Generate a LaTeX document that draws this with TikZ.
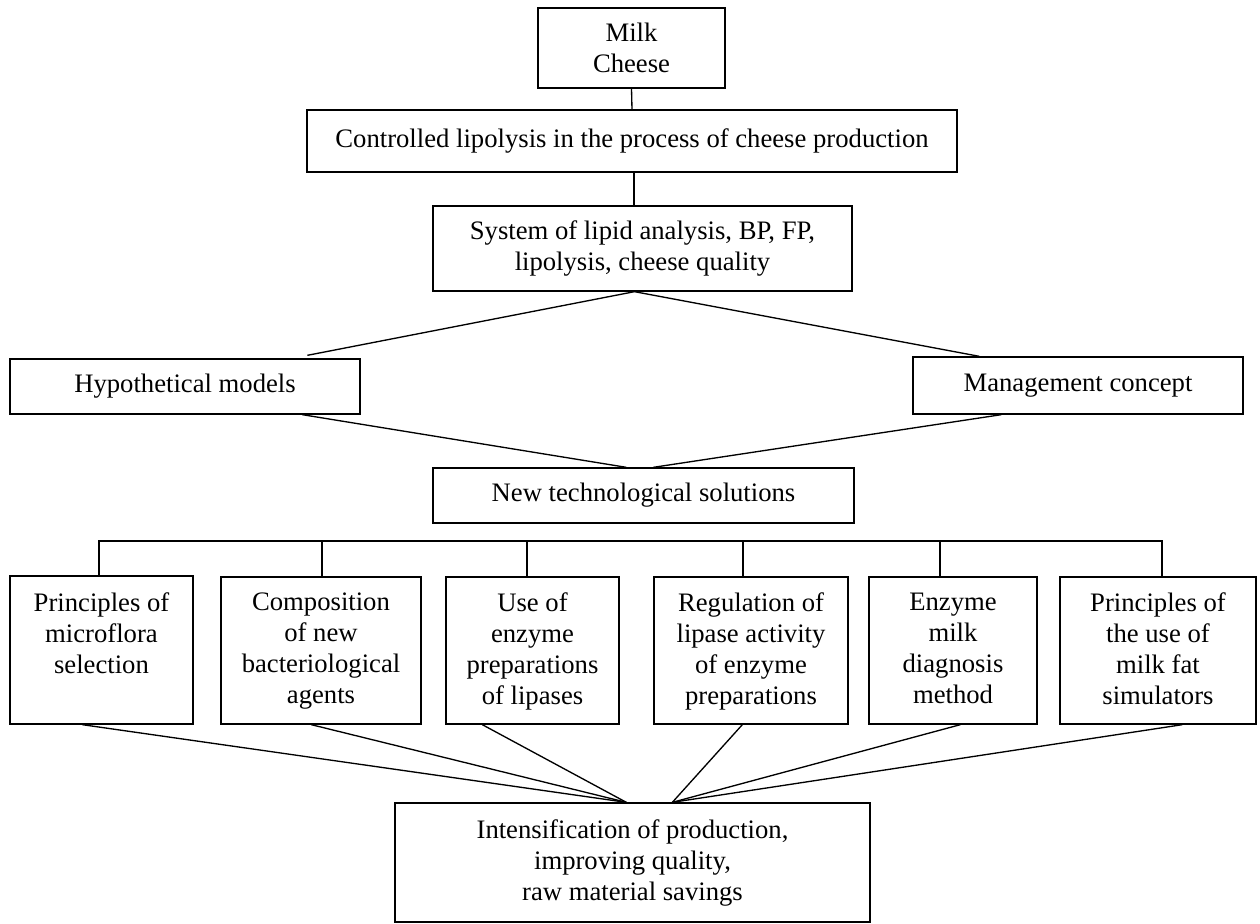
\documentclass[tikz,border=0pt]{standalone}
\usepackage{fontspec}
\setmainfont{Liberation Serif}
\usetikzlibrary{calc}
\begin{document}
\begin{tikzpicture}[x=0.75pt,y=-0.75pt,
  box/.style={draw, line width=1pt, rectangle, inner sep=0pt, align=center,
    font=\fontsize{20pt}{23.25pt}\selectfont},
  txt/.style={inner sep=0pt, align=center, anchor=north,
    font=\fontsize{20pt}{23.25pt}\selectfont},
  link/.style={line width=1pt},
  bus/.style={line width=1.25pt, line cap=rect},
  thickdrop/.style={line width=2pt},
  thindrop/.style={line width=1.2pt}]
\useasboundingbox (0,0) rectangle (1260,924);

% upper chain
\node[box, minimum width=140.25pt, minimum height=60pt] (milk) at (631.5,48) {Milk\\Cheese};
\node[box, minimum width=487.5pt, minimum height=46.5pt] (ctrl) at (632,141)
  {Controlled lipolysis in the process of cheese production};
\node[box, minimum width=314.25pt, minimum height=63.75pt] (sys) at (642.5,248.5)
  {System of lipid analysis, BP, FP,\\lipolysis, cheese quality};
\node[box, minimum width=262.5pt, minimum height=41.25pt] (hyp) at (185,386.5) {Hypothetical models};
\node[box, minimum width=247.5pt, minimum height=42.75pt] (mgmt) at (1078,385.5) {Management concept};
\node[box, minimum width=315.75pt, minimum height=41.25pt] (newt) at (643.5,495.5) {New technological solutions};

% six directions
\node[box, minimum width=137.25pt, minimum height=111pt] (b1) at (101.5,650) {};
\node[box, minimum width=150pt, minimum height=110.25pt] (b2) at (321,650.5) {};
\node[box, minimum width=129.75pt, minimum height=110.25pt] (b3) at (532.5,650.5) {};
\node[box, minimum width=145.5pt, minimum height=110.25pt] (b4) at (751,650.5) {};
\node[box, minimum width=126pt, minimum height=110.25pt] (b5) at (953,650.5) {};
\node[box, minimum width=147pt, minimum height=110.25pt] (b6) at (1158,650.5) {};

\node[txt] (t1) at ($(b1.north)+(0,17)$) {Principles of\\microflora\\selection};
\node[txt] (t2) at ($(b2.north)+(0,16)$) {Composition\\of new\\bacteriological\\agents};
\node[txt] (t3) at ($(b3.north)+(0,16)$) {Use of\\enzyme\\preparations\\of lipases};
\node[txt] (t4) at ($(b4.north)+(0,16)$) {Regulation of\\lipase activity\\of enzyme\\preparations};
\node[txt] (t5) at ($(b5.north)+(0,16)$) {Enzyme\\milk\\diagnosis\\method};
\node[txt] (t6) at ($(b6.north)+(0,16)$) {Principles of\\the use of\\milk fat\\simulators};

% result
\node[box, minimum width=356.25pt, minimum height=89.25pt] (res) at (632.5,862.5)
  {Intensification of production,\\improving quality,\\raw material savings};

% vertical links at the top
\draw[link] (milk.south) -- (ctrl.north);
\draw[link] ($(ctrl.south)+(2,0)$) -- ($(ctrl.south |- sys.north)+(2,0)$);

% fork to the two branches and back
\coordinate (fork) at ($(sys.south)+(-8,0)$);
\draw[link] (fork) -- ($(hyp.north west)+(298,-3)$);
\draw[link] (fork) -- ($(mgmt.north west)+(67,0)$);
\draw[link] ($(hyp.south west)+(293,0)$) -- ($(newt.north west)+(194,0)$);
\draw[link] ($(mgmt.south west)+(89,0)$) -- ($(newt.north west)+(221,0)$);

% distribution bus
\coordinate (d1) at (99,541);
\coordinate (d2) at (322,541);
\coordinate (d3) at (527,541);
\coordinate (d4) at (743,541);
\coordinate (d5) at (940,541);
\coordinate (d6) at (1162,541);
\draw[bus] (d1) -- (d6);
\draw[thickdrop] (d1) -- (d1 |- b1.north);
\draw[thickdrop] (d2) -- (d2 |- b2.north);
\draw[thickdrop] (d3) -- (d3 |- b3.north);
\draw[thindrop] (d4) -- (d4 |- b4.north);
\draw[thindrop] (d5) -- (d5 |- b5.north);
\draw[thindrop] (d6) -- (d6 |- b6.north);

% convergence on the result
\coordinate (inL) at ($(res.north west)+(232,0)$);
\coordinate (inR) at ($(res.north west)+(278,0)$);
\draw[link] ($(b1.south west)+(73,0)$) -- (inL);
\draw[link] ($(b2.south west)+(91,0)$) -- (inL);
\draw[link] ($(b3.south west)+(37,0)$) -- (inL);
\draw[link] ($(b4.south west)+(89,0)$) -- (inR);
\draw[link] ($(b5.south west)+(92,0)$) -- (inR);
\draw[link] ($(b6.south west)+(123,0)$) -- (inR);
\end{tikzpicture}
\end{document}
